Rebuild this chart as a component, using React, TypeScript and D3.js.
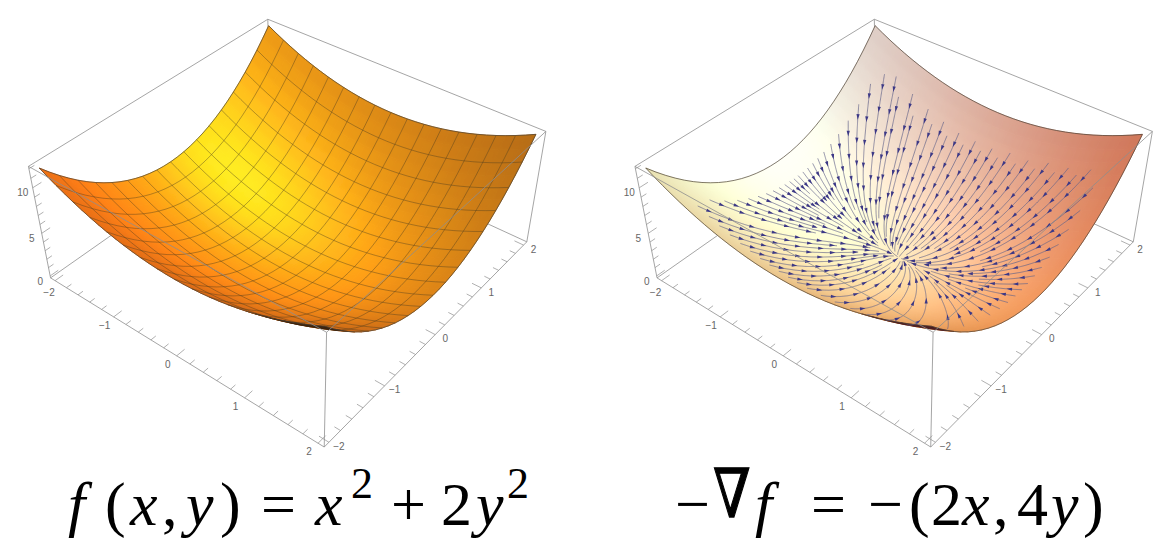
import { useEffect, useRef } from "react";
import * as d3 from "d3";

// sample positions on both axes, and the two terms of the surface read at them
const gridValues = [
  -2, -1.875, -1.75, -1.625, -1.5, -1.375, -1.25, -1.125, -1, -0.875, -0.75, -0.625, -0.5, -0.375, -0.25, -0.125, 0,
  0.125, 0.25, 0.375, 0.5, 0.625, 0.75, 0.875, 1, 1.125, 1.25, 1.375, 1.5, 1.625, 1.75, 1.875, 2,
];
const xTerm = [
  4, 3.516, 3.063, 2.641, 2.25, 1.891, 1.563, 1.266, 1, 0.766, 0.563, 0.391, 0.25, 0.141, 0.063, 0.016, 0,
  0.016, 0.063, 0.141, 0.25, 0.391, 0.563, 0.766, 1, 1.266, 1.563, 1.891, 2.25, 2.641, 3.063, 3.516, 4,
];
const yTerm = [
  8, 7.031, 6.125, 5.281, 4.5, 3.781, 3.125, 2.531, 2, 1.531, 1.125, 0.781, 0.5, 0.281, 0.125, 0.031, 0,
  0.031, 0.125, 0.281, 0.5, 0.781, 1.125, 1.531, 2, 2.531, 3.125, 3.781, 4.5, 5.281, 6.125, 7.031, 8,
];

const xyTicks = [-2, -1, 0, 1, 2];
const zTicks = [0, 5, 10];

// where the streamlines of the right panel start, going round the edge
const topSeedX = [-1.62, -1.47, -1.32, -1.17, -1.03, -0.89, -0.75, -0.62, -0.49, -0.36, -0.23, -0.1, 0.03, 0.16, 0.29, 0.42, 0.56, 0.7, 0.84, 0.98, 1.12, 1.27, 1.42, 1.57];
const topSeedY = [1.72, 1.78, 1.64, 1.75, 1.58, 1.72, 1.62, 1.7, 1.6, 1.68, 1.6, 1.68, 1.62, 1.68, 1.62, 1.7, 1.62, 1.68, 1.62, 1.7, 1.62, 1.68, 1.62, 1.68];
const rightSeedY = [1.5, 1.25, 1.02, 0.82, 0.64, 0.48, 0.34, 0.2, 0.08, -0.05, -0.2, -0.36, -0.55, -0.78, -1.05, -1.35];
const bottomSeedX = [1.48, 1.2, 0.95, 0.72, 0.5, 0.3, 0.1, -0.05, -0.18, -0.32, -0.46, -0.6, -0.75, -0.9, -1.06, -1.22, -1.38, -1.55];
const leftSeedY = [-1.4, -1.18, -0.98, -0.8, -0.64, -0.5, -0.38, -0.27, -0.17, -0.08, 0, 0.08, 0.17, 0.26, 0.36, 0.46, 0.58, 0.72, 0.88, 1.08, 1.3, 1.55];

// box corners as they sit on the page in the left panel: x, y, z, px, py
const boxCorners = [
  [-1, -1, -1, 49, 276],
  [1, -1, -1, 324, 447],
  [1, 1, -1, 527.5, 240],
  [-1, 1, -1, 271, 127],
  [-1, -1, 1, 30, 167],
  [1, -1, 1, 327, 334],
  [1, 1, 1, 545, 132],
  [-1, 1, 1, 267, 17],
];

// shading: constant, nx, ny, nz, highlight
const leftShade = { r: [95, 75, 0, 190, 0], g: [20, 35, -15, 150, 70], b: [14, 0, 0, 10, 10] };
const rightShade = { r: [145, 21, 8, 125, 0], g: [78, 120, 15, 157, 0], b: [53, 150, -12, 137, 0] };
const highlight = [0.39, -0.31, 0.86];

const scaleXY = d3.scaleLinear().domain([-2.08, 2.08]).range([-1, 1]);
const scaleZ = d3.scaleLinear().domain([-0.24, 12.24]).range([-1, 1]);
const lookX = d3.scaleLinear().domain(gridValues).range(xTerm);
const lookY = d3.scaleLinear().domain(gridValues).range(yTerm);

// least squares camera from the box corners
function solveCamera() {
  const rows: number[][] = [];
  boxCorners.forEach(([X, Y, Z, u0, v0]) => {
    const u = u0 / 500;
    const v = v0 / 500;
    rows.push([X, Y, Z, 1, 0, 0, 0, 0, -u * X, -u * Y, -u * Z, u]);
    rows.push([0, 0, 0, 0, X, Y, Z, 1, -v * X, -v * Y, -v * Z, v]);
  });
  const n = 11;
  const m = d3.range(n).map((i) =>
    d3.range(n + 1).map((j) => d3.sum(rows, (r) => r[i] * r[j]))
  );
  for (let i = 0; i < n; i++) {
    let piv = i;
    for (let k = i + 1; k < n; k++) if (Math.abs(m[k][i]) > Math.abs(m[piv][i])) piv = k;
    [m[i], m[piv]] = [m[piv], m[i]];
    for (let k = 0; k < n; k++) {
      if (k === i) continue;
      const f = m[k][i] / m[i][i];
      for (let j = i; j <= n; j++) m[k][j] -= f * m[i][j];
    }
  }
  return d3.range(n).map((i) => m[i][n] / m[i][i]);
}

const cam = solveCamera();

function project(x: number, y: number, z: number): [number, number] {
  const X = scaleXY(x);
  const Y = scaleXY(y);
  const Z = scaleZ(z);
  const w = cam[8] * X + cam[9] * Y + cam[10] * Z + 1;
  return [
    (500 * (cam[0] * X + cam[1] * Y + cam[2] * Z + cam[3])) / w,
    (500 * (cam[4] * X + cam[5] * Y + cam[6] * Z + cam[7])) / w,
  ];
}

const clamp = (v: number) => Math.max(0, Math.min(255, v));

function shadeColor(shade: typeof leftShade, nx: number, ny: number, nz: number) {
  const spec = Math.pow(Math.max(0, nx * highlight[0] + ny * highlight[1] + nz * highlight[2]), 10);
  const ch = (c: number[]) => clamp(c[0] + c[1] * nx + c[2] * ny + c[3] * nz + c[4] * spec);
  return d3.rgb(ch(shade.r), ch(shade.g), ch(shade.b)).formatHex();
}

function drawPanel(
  svg: d3.Selection<SVGGElement, unknown, null, undefined>,
  id: string,
  offset: number,
  shade: typeof leftShade,
  withMesh: boolean,
  withStreams: boolean
) {
  const g = svg.append("g").attr("transform", `translate(${offset},0)`);
  const line = d3.line<[number, number]>();
  const boxStroke = "#8e8e8e";
  const B = 2.08;
  const zLo = -0.24;
  const zHi = 12.24;

  const edge = (a: number[], b: number[]) =>
    g.append("path")
      .attr("d", line([project(a[0], a[1], a[2]), project(b[0], b[1], b[2])]))
      .attr("stroke", boxStroke)
      .attr("stroke-width", 0.8)
      .attr("fill", "none");

  // back edges of the box
  edge([-B, -B, zLo], [-B, B, zLo]);
  edge([-B, B, zLo], [B, B, zLo]);
  edge([-B, B, zLo], [-B, B, zHi]);
  edge([-B, -B, zHi], [-B, B, zHi]);
  edge([-B, B, zHi], [B, B, zHi]);

  // surface patches, far corner first
  const n = gridValues.length;
  const zAt = (i: number, j: number) => xTerm[i] + yTerm[j];
  const quads: { d: string; color: string; flipped: boolean }[] = [];
  const kSlope = 0.15;
  for (let i = 0; i < n - 1; i++) {
    for (let j = n - 2; j >= 0; j--) {
      const pts = [
        project(gridValues[i], gridValues[j], zAt(i, j)),
        project(gridValues[i + 1], gridValues[j], zAt(i + 1, j)),
        project(gridValues[i + 1], gridValues[j + 1], zAt(i + 1, j + 1)),
        project(gridValues[i], gridValues[j + 1], zAt(i, j + 1)),
      ];
      const dzx = ((zAt(i + 1, j) + zAt(i + 1, j + 1) - zAt(i, j) - zAt(i, j + 1)) / 2 / 0.125) * kSlope;
      const dzy = ((zAt(i, j + 1) + zAt(i + 1, j + 1) - zAt(i, j) - zAt(i + 1, j)) / 2 / 0.125) * kSlope;
      const len = Math.hypot(dzx, dzy, 1);
      quads.push({
        d: line(pts) + "Z",
        color: shadeColor(shade, -dzx / len, -dzy / len, 1 / len),
        flipped: d3.polygonArea(pts) < 0,
      });
    }
  }
  const front = quads.filter((q) => !q.flipped);
  const under = quads.filter((q) => q.flipped);

  const clip = svg.append("clipPath").attr("id", `clip-${id}`);
  clip.selectAll("path").data(quads).join("path").attr("d", (q) => q.d);
  const blur = svg.append("filter")
    .attr("id", `blur-${id}`)
    .attr("filterUnits", "userSpaceOnUse")
    .attr("x", -50).attr("y", -50).attr("width", 1300).attr("height", 650);
  blur.append("feGaussianBlur").attr("stdDeviation", 2.4);

  const paint = (parent: d3.Selection<SVGGElement, unknown, null, undefined>) =>
    parent.selectAll("path").data(front).join("path")
      .attr("d", (q) => q.d)
      .attr("fill", (q) => q.color)
      .attr("stroke", (q) => q.color)
      .attr("stroke-width", 0.7);
  paint(g.append("g"));
  paint(g.append("g").attr("clip-path", `url(#clip-${id})`).append("g").attr("filter", `url(#blur-${id})`));

  // mesh, every second sample
  if (withMesh) {
    const meshG = g.append("g").attr("fill", "none").attr("stroke", "#4a3a1c").attr("stroke-opacity", 0.55).attr("stroke-width", 0.75);
    for (let k = 2; k < n - 1; k += 2) {
      meshG.append("path").attr("d", line(d3.range(n).map((j) => project(gridValues[k], gridValues[j], zAt(k, j)))));
      meshG.append("path").attr("d", line(d3.range(n).map((i) => project(gridValues[i], gridValues[k], zAt(i, k)))));
    }
  }

  g.append("g").selectAll("path").data(under).join("path")
    .attr("d", (q) => q.d)
    .attr("fill", withMesh ? "#3a2410" : "#4a1c20")
    .attr("stroke", withMesh ? "#3a2410" : "#4a1c20")
    .attr("stroke-width", 0.4);

  // outline
  const outline = [
    ...d3.range(n).map((i) => project(gridValues[i], -2, zAt(i, 0))),
    ...d3.range(n).map((j) => project(2, gridValues[j], zAt(n - 1, j))),
    ...d3.range(n).map((i) => project(gridValues[n - 1 - i], 2, zAt(n - 1 - i, n - 1))),
    ...d3.range(n).map((j) => project(-2, gridValues[n - 1 - j], zAt(0, n - 1 - j))),
  ];
  g.append("path").attr("d", line(outline) + "Z").attr("fill", "none")
    .attr("stroke", "#4b4035").attr("stroke-width", 0.7);

  if (withStreams) drawStreams(g);

  // front edges of the box
  edge([-B, -B, zLo], [B, -B, zLo]);
  edge([B, -B, zLo], [B, B, zLo]);
  edge([-B, -B, zLo], [-B, -B, zHi]);
  edge([B, -B, zLo], [B, -B, zHi]);
  edge([B, B, zLo], [B, B, zHi]);
  edge([-B, -B, zHi], [B, -B, zHi]);
  edge([B, -B, zHi], [B, B, zHi]);

  // ticks
  const tick = (a: number[], dir: number[], len: number) =>
    g.append("path")
      .attr("d", line([
        project(a[0], a[1], a[2]),
        project(a[0] + dir[0] * len, a[1] + dir[1] * len, a[2] + dir[2] * len),
      ]))
      .attr("stroke", boxStroke).attr("stroke-width", 0.7);
  const label = (a: number[], dx: number, dy: number, v: number) => {
    const [px, py] = project(a[0], a[1], a[2]);
    g.append("text")
      .attr("x", px + dx).attr("y", py + dy)
      .attr("text-anchor", "middle").attr("dominant-baseline", "middle")
      .attr("font-family", "'Liberation Sans', sans-serif").attr("font-size", 10).attr("fill", "#666")
      .text(d3.format("d")(v).replace("-", "\u2212"));
  };
  d3.range(-2, 2.001, 0.2).forEach((t) => {
    const major = Math.abs(t - Math.round(t)) < 0.01;
    tick([t, -B, zLo], [0, 1, 0], major ? 0.13 : 0.08);
    tick([B, t, zLo], [-1, 0, 0], major ? 0.13 : 0.08);
  });
  d3.range(0, 12.001, 1).forEach((t) => {
    const major = t % 5 === 0;
    tick([-B, -B, t], [0, 1, 0], major ? 0.13 : 0.08);
  });
  xyTicks.forEach((t) => {
    // the -2 of the x axis sits just under the 0 of the z axis
    label([t, -B, zLo], t === -2 ? -6 : -9, t === -2 ? 13 : 9.5, t);
    label([B, t, zLo], 10, 5, t);
  });
  zTicks.forEach((t) => label([-B, -B, t], -10, 6, t));
}

function drawStreams(g: d3.Selection<SVGGElement, unknown, null, undefined>) {
  const round: [number, number][] = [
    ...topSeedX.map((x, i) => [x, topSeedY[i]] as [number, number]),
    ...rightSeedY.map((y) => [1.72, y] as [number, number]),
    ...bottomSeedX.map((x) => [x, -1.72] as [number, number]),
    ...leftSeedY.map((y) => [-1.72, y] as [number, number]),
  ];
  // every 8th line first, then the ones between: the later ones stop against them
  const seeds: [number, number][] = [
    ...round.filter((_, i) => i % 8 === 3),
    ...round.filter((_, i) => i % 8 === 7),
    ...round.filter((_, i) => i % 4 === 1),
    ...round.filter((_, i) => i % 2 === 0),
  ];

  const cell = 3;
  const taken = new Map<string, number>();
  const line = d3.line<[number, number]>();
  const lines = g.append("g").attr("fill", "none").attr("stroke", "#64648a").attr("stroke-width", 0.7);
  const heads = g.append("g").attr("fill", "#3c3886");

  seeds.forEach(([x0, y0], id) => {
    let x = x0;
    let y = y0;
    const pts: [number, number][] = [];
    for (let s = 0; s < 600; s++) {
      const p = project(x, y, lookX(x) + lookY(y));
      const hit = taken.get(`${Math.floor(p[0] / cell)},${Math.floor(p[1] / cell)}`);
      if (hit !== undefined && hit !== id) break;
      pts.push(p);
      const u = -2 * x;
      const v = -4 * y;
      const len = Math.hypot(u, v);
      if (len < 0.08) break;
      x += (u / len) * 0.012;
      y += (v / len) * 0.012;
    }
    pts.forEach((p) => taken.set(`${Math.floor(p[0] / cell)},${Math.floor(p[1] / cell)}`, id));
    if (pts.length < 4) return;
    lines.append("path").attr("d", line(pts));

    // arrowheads every so many pixels along the line
    let walked = 0;
    let next = 12;
    for (let k = 1; k < pts.length; k++) {
      const dx = pts[k][0] - pts[k - 1][0];
      const dy = pts[k][1] - pts[k - 1][1];
      const seg = Math.hypot(dx, dy);
      walked += seg;
      if (walked >= next && seg > 0) {
        next += 23;
        const ux = dx / seg;
        const uy = dy / seg;
        const [ax, ay] = pts[k];
        const tri: [number, number][] = [
          [ax + ux * 3, ay + uy * 3],
          [ax - ux * 2.6 - uy * 1.6, ay - uy * 2.6 + ux * 1.6],
          [ax - ux * 2.6 + uy * 1.6, ay - uy * 2.6 - ux * 1.6],
        ];
        heads.append("path").attr("d", line(tri) + "Z");
      }
    }
  });
}

// equation glyphs: text, page x, italic, superscript
const leftEquation: [string, number, boolean, boolean][] = [
  ["f", 68, true, false], ["(", 105, false, false], ["x", 130, true, false], [",", 162, false, false],
  ["y", 186, true, false], [")", 220, false, false], ["=", 261, false, false], ["x", 315, true, false],
  ["2", 351, false, true], ["+", 391, false, false], ["2", 441, false, false], ["y", 476, true, false],
  ["2", 507, false, true],
];
const rightEquation: [string, number, boolean, boolean][] = [
  ["\u2212", 675, false, false], ["f", 755, true, false], ["=", 811, false, false],
  ["\u2212", 868, false, false], ["(", 909, false, false], ["2", 931, false, false], ["x", 962, true, false],
  [",", 993, false, false], ["4", 1017, false, false], ["y", 1051, true, false], [")", 1083, false, false],
];

function Equation({ glyphs }: { glyphs: [string, number, boolean, boolean][] }) {
  return (
    <g fontFamily="'Liberation Serif', serif" fill="#000">
      {glyphs.map(([t, x, italic, sup], i) => (
        <text key={i} x={x} y={sup ? 498 : 525} fontSize={sup ? 44 : 62} fontStyle={italic ? "italic" : "normal"}>
          {t}
        </text>
      ))}
    </g>
  );
}

export default function App() {
  const plotRef = useRef<SVGGElement>(null);

  useEffect(() => {
    const plots = d3.select(plotRef.current!);
    plots.selectAll("*").remove();
    drawPanel(plots, "left", 0, leftShade, true, false);
    drawPanel(plots, "right", 606.5, rightShade, false, true);
  }, []);

  return (
    <svg width={1161} height={550} style={{ position: "absolute", left: 0, top: 0, background: "#fff" }}>
      <g ref={plotRef} />
      <Equation glyphs={leftEquation} />
      <Equation glyphs={rightEquation} />
      <text
        transform="translate(713,517) scale(1,1.25)"
        fontFamily="'DejaVu Serif', serif"
        fontSize={54}
        stroke="#000"
        strokeWidth={1}
        fill="#000"
      >
        {"\u2207"}
      </text>
    </svg>
  );
}
